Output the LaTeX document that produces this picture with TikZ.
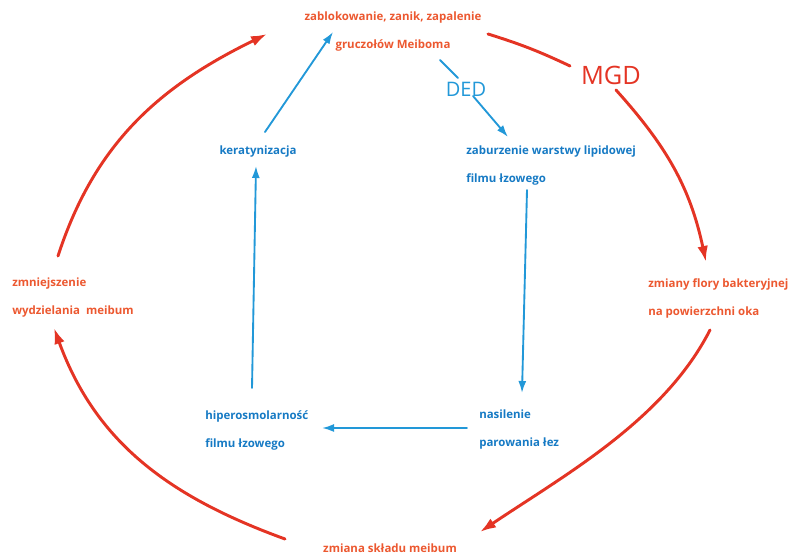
\documentclass[tikz,border=0pt]{standalone}
\usepackage{fontspec}
\setmainfont{Open Sans}
\usepackage{xcolor}
\usepackage{tikz}
\usetikzlibrary{arrows.meta, positioning}

\definecolor{redtxt}{RGB}{236,88,48}
\definecolor{bluetxt}{RGB}{22,122,196}
\definecolor{redpen}{RGB}{228,52,36}
\definecolor{bluepen}{RGB}{34,152,216}

\begin{document}
\begin{tikzpicture}[
  x=0.75pt, y=0.75pt,
  every node/.style={inner sep=0pt, font=\bfseries\fontsize{8.6}{21}\selectfont},
  mgdtxt/.style={text=redtxt, align=left},
  dedtxt/.style={text=bluetxt, align=left},
  mgdarrow/.style={draw=redpen, line width=2.2pt, line cap=round,
                   -{Latex[length=12pt,width=8pt]}},
  mgdline/.style={draw=redpen, line width=2.2pt, line cap=round},
  dedarrow/.style={draw=bluepen, line width=1.4pt, line cap=round,
                   -{Latex[length=9pt,width=6pt]}},
  dedline/.style={draw=bluepen, line width=1.4pt, line cap=round},
  hand/.style={font=\fontsize{19}{19}\selectfont},
]
  \useasboundingbox (0,0) rectangle (792,556);

  \node[mgdtxt, align=center] (meib) at (393,524) {zablokowanie, zanik, zapalenie\\gruczołów Meiboma};
  \node[mgdtxt, anchor=west] (flora) at (648,258) {zmiany flory bakteryjnej\\na powierzchni oka};
  \node[mgdtxt, align=center] (comp) at (390,8) {zmiana składu meibum};
  \node[mgdtxt, anchor=west] (secr) at (12,258) {zmniejszenie\\wydzielania\ \ meibum};

  \node[dedtxt] (ker) at (258,404) {keratynizacja};
  \node[dedtxt, anchor=west] (lip) at (466,390) {zaburzenie warstwy lipidowej\\filmu łzowego};
  \node[dedtxt, anchor=west] (evap) at (479,126) {nasilenie\\parowania łez};
  \node[dedtxt, anchor=west] (hyper) at (205,126) {hiperosmolarność\\filmu łzowego};

  \node[hand, text=redpen] (mgd) at (611,481) {MGD};
  \node[hand, text=bluepen, font=\fontsize{15}{15}\selectfont] (ded) at (466,467) {DED};

  \draw[mgdline] ([shift={(95,-2)}]meib.center) to[bend left=4] ([shift={(-41,9)}]mgd.center);
  \draw[mgdarrow] ([shift={(5,-15)}]mgd.center) to[out=-48,in=102] ([shift={(58,36)}]flora.west);
  \draw[mgdarrow] ([shift={(62,-32)}]flora.west) to[out=-117,in=34, looseness=0.85] ([shift={(90,16)}]comp.center);
  \draw[mgdarrow] ([shift={(-105,9)}]comp.center) to[out=160,in=-70] ([shift={(42,-30)}]secr.west);
  \draw[mgdarrow] ([shift={(46,42)}]secr.west) to[out=72,in=206] ([shift={(-126,-2)}]meib.center);

  \draw[dedarrow] ([shift={(7,20)}]ker.center) -- ([shift={(-60,0)}]meib.center);
  \draw[dedline] ([shift={(47,-28)}]meib.center) -- ([shift={(-8,11)}]ded.center);
  \draw[dedarrow] ([shift={(7,-7)}]ded.center) -- ([shift={(42,29)}]lip.west);
  \draw[dedarrow] ([shift={(61,-24)}]lip.west) -- ([shift={(43,37)}]evap.west);
  \draw[dedarrow] ([shift={(-12,2)}]evap.west) -- ([shift={(117,2)}]hyper.west);
  \draw[dedarrow] ([shift={(47,42)}]hyper.west) -- ([shift={(-2,-14)}]ker.center);
\end{tikzpicture}
\end{document}
